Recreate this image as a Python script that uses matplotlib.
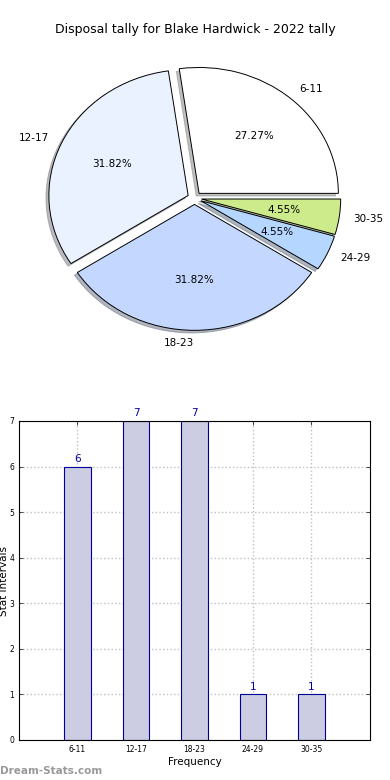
import matplotlib
matplotlib.use("Agg")
import matplotlib.pyplot as plt

# data
labels = ["6-11", "12-17", "18-23", "24-29", "30-35"]
counts = [6, 7, 7, 1, 1]
pie_colors = ["#ffffff", "#eaf1ff", "#c4d8ff", "#b4d6ff", "#cdeb8b"]

fig = plt.figure(figsize=(3.9, 7.8), dpi=100)

# pie chart
ax1 = fig.add_axes([0.0487, 0.541, 0.9, 0.41])
wedges, texts, autotexts = ax1.pie(
    counts, labels=labels, colors=pie_colors, autopct="%.2f%%",
    explode=[0.05] * 5, shadow={"ox": -0.015, "oy": -0.015, "shade": 0.5},
    startangle=0,
    wedgeprops={"edgecolor": "black", "linewidth": 0.7},
    textprops={"fontsize": 7.5})
texts[2].set_ha("right")
ax1.set_aspect("auto")
ax1.set_xlim(-1.26, 1.26)
ax1.set_ylim(-1.27, 1.27)
ax1.axis("off")
fig.text(0.5, 1 - 30 / 780, "Disposal tally for Blake Hardwick - 2022 tally",
         ha="center", va="center", fontsize=9)

# bar chart
ax2 = fig.add_axes([0.0487, 0.0513, 0.9, 0.409])
xs = range(1, len(counts) + 1)
ax2.bar(xs, counts, width=0.45, color="#ccccE2", edgecolor="#000099",
        linewidth=0.8, zorder=2)
for x, c in zip(xs, counts):
    ax2.text(x, c + 0.06, str(c), ha="center", va="bottom",
             color="#000099", fontsize=7.5)
ax2.set_xlim(0, 6)
ax2.set_ylim(0, 7)
ax2.set_xticks(list(xs))
ax2.set_xticklabels(labels, fontsize=5.5)
ax2.set_yticks(range(0, 8))
ax2.tick_params(axis="y", labelsize=5.5)
ax2.tick_params(direction="in", top=True, right=True, length=3, width=0.5)
ax2.grid(True, linestyle=":", color="#c0c0c0", linewidth=1.0, zorder=0)
ax2.set_axisbelow(True)
ax2.set_xlabel("Frequency", fontsize=7.5, labelpad=2)
fig.text(4 / 390, 1 - 581 / 780, "Stat Intervals", rotation=90,
         ha="center", va="center", fontsize=7.5)

fig.text(0.0, 1 - 771 / 780, "Dream-Stats.com", color="#999999",
         fontsize=7.5, fontweight="bold", ha="left", va="center")

fig.savefig("out.png", dpi=100)
